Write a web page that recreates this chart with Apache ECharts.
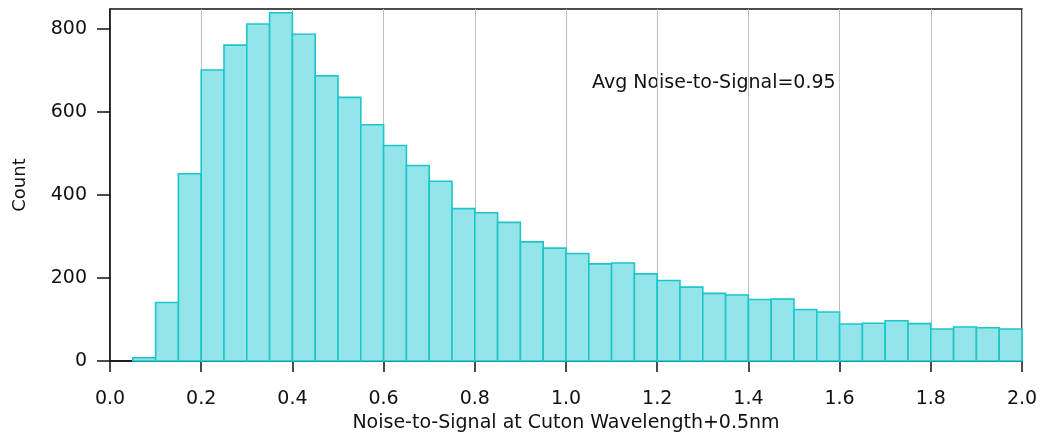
<!DOCTYPE html>
<html>
<head>
<meta charset="utf-8">
<script src="https://cdn.jsdelivr.net/npm/echarts@6/dist/echarts.min.js"></script>
<style>
  html, body { margin: 0; padding: 0; background: #fff; }
  #chart { width: 1042px; height: 438px; }
</style>
</head>
<body>
<div id="chart"></div>
<script>
// lower edge of each histogram bin (bin width 0.05)
const binStart = [0.05, 0.10, 0.15, 0.20, 0.25, 0.30, 0.35, 0.40, 0.45, 0.50,
  0.55, 0.60, 0.65, 0.70, 0.75, 0.80, 0.85, 0.90, 0.95, 1.00,
  1.05, 1.10, 1.15, 1.20, 1.25, 1.30, 1.35, 1.40, 1.45, 1.50,
  1.55, 1.60, 1.65, 1.70, 1.75, 1.80, 1.85, 1.90, 1.95]
const binWidth = 0.05
const counts = [8, 141, 451, 701, 761, 812, 839, 787, 687, 635,
  569, 519, 471, 433, 367, 357, 334, 287, 272, 259,
  234, 236, 210, 194, 178, 163, 159, 148, 149, 124,
  118, 89, 91, 97, 90, 77, 82, 80, 77]
const yTicks = [0, 200, 400, 600, 800]
const avgText = 'Avg Noise-to-Signal=0.95'

const font = 'DejaVu Sans'
const ink = '#111'
const myChart = echarts.init(document.getElementById('chart'))

const data = binStart.map((x, i) => [x, x + binWidth, counts[i]])

myChart.setOption({
  animation: false,
  textStyle: {fontFamily: font},
  grid: {
    left: 110,
    right: 20,
    top: 9,
    bottom: 76,
    show: true,
    borderColor: ink,
    borderWidth: 1.5
  },
  xAxis: {
    type: 'value',
    min: 0,
    max: 2,
    interval: 0.2,
    name: 'Noise-to-Signal at Cuton Wavelength+0.5nm',
    nameLocation: 'middle',
    nameGap: 53,
    nameTextStyle: {color: ink, fontSize: 19, fontFamily: font},
    axisLine: {onZero: false, lineStyle: {color: ink, width: 1.5}},
    axisTick: {length: 11, lineStyle: {color: ink, width: 1.5}},
    axisLabel: {
      color: ink,
      fontSize: 19,
      margin: 29,
      formatter: v => v.toFixed(1)
    },
    splitLine: {show: true, lineStyle: {color: '#bdbdbd', width: 1}}
  },
  yAxis: {
    type: 'value',
    min: 0,
    max: 848,
    name: 'Count',
    nameLocation: 'middle',
    nameGap: 81,
    nameTextStyle: {color: ink, fontSize: 18, fontFamily: font},
    axisLine: {show: true, lineStyle: {color: ink, width: 1.5}},
    axisTick: {show: true, length: 13, customValues: yTicks, lineStyle: {color: ink, width: 1.5}},
    axisLabel: {color: ink, fontSize: 19, margin: 23, customValues: yTicks},
    splitLine: {show: false}
  },
  series: [{
    type: 'custom',
    data: data,
    encode: {x: [0, 1], y: 2},
    renderItem: (params, api) => {
      const p0 = api.coord([api.value(0), 0])
      const p1 = api.coord([api.value(1), api.value(2)])
      return {
        type: 'rect',
        shape: {x: p0[0], y: p1[1], width: p1[0] - p0[0], height: p0[1] - p1[1]},
        style: {fill: '#93e5e9', stroke: '#1cc6cd', lineWidth: 1.6}
      }
    }
  }],
  graphic: [{
    type: 'text',
    left: 592,
    top: 74,
    style: {text: avgText, fontSize: 19, fontFamily: font, fill: ink}
  }]
})
</script>
</body>
</html>
